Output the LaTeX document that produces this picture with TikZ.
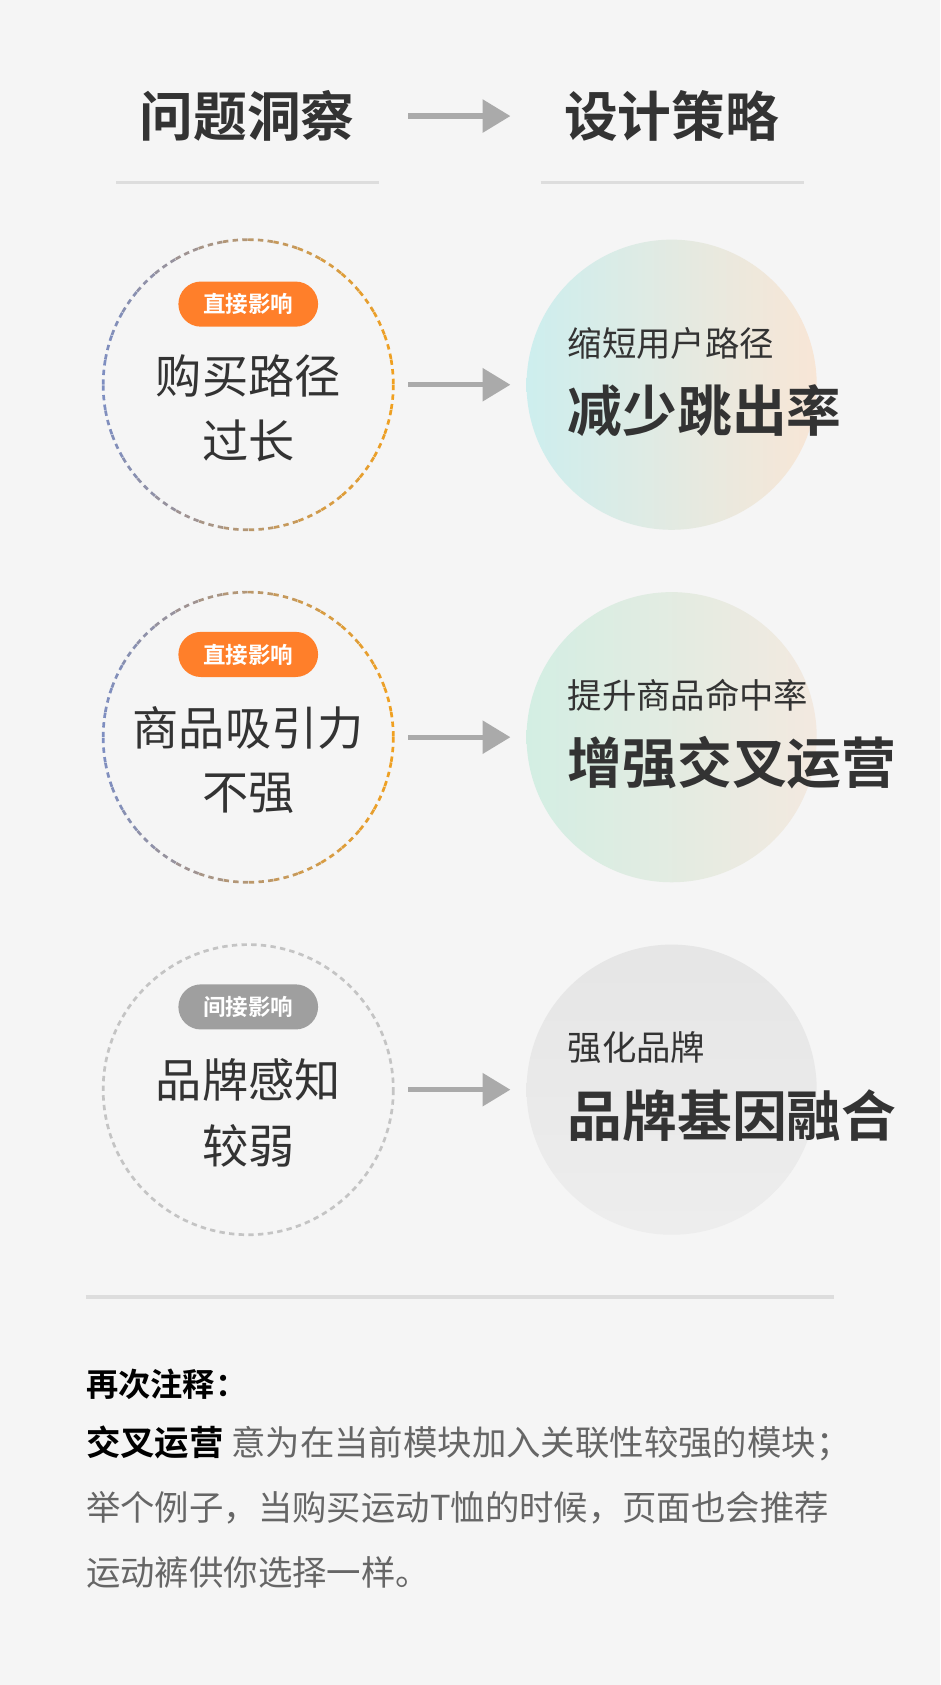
\documentclass[tikz,border=0pt]{standalone}
\usepackage{fontspec}
\setmainfont{Noto Sans CJK SC}[BoldFont={Noto Sans CJK SC Bold}]
\usetikzlibrary{arrows.meta}
\definecolor{bg}{HTML}{F5F5F5}
\definecolor{dk}{HTML}{333333}
\definecolor{ar}{HTML}{AAAAAA}
\definecolor{ln}{HTML}{DDDDDD}
\definecolor{og}{HTML}{FF7F2A}
\definecolor{bl}{HTML}{7E8EC0}
\definecolor{or}{HTML}{F0A020}
\definecolor{gy}{HTML}{C4C4C4}
\definecolor{tx}{HTML}{666666}
\definecolor{c1l}{HTML}{CDEEEE}
\definecolor{c1r}{HTML}{F8E6D6}
\definecolor{c2l}{HTML}{D3EEE3}
\definecolor{c2r}{HTML}{F3E9E0}
\newcommand{\fs}[1]{\fontsize{#1pt}{#1pt}\selectfont}
\tikzset{
 flowarrow/.style={draw=ar,line width=5pt,-{Triangle[length=26pt,width=30pt]}},
 badge/.style={rounded corners=21pt,minimum width=130pt,minimum height=42pt,text=white,font=\fs{21}\bfseries,inner sep=0},
 probtext/.style={text=dk,font=\fs{43},align=center,inner sep=0},
 small/.style={text=dk,font=\fs{32},anchor=west,inner sep=0},
 big/.style={text=dk,font=\fs{51}\bfseries,anchor=west,inner sep=0},
 title/.style={text=dk,font=\fs{50}\bfseries,inner sep=0},
 note/.style={text=tx,font=\fs{32},anchor=west,inner sep=0}
}
\begin{document}
\begin{tikzpicture}[x=1pt,y=-1pt]
\fill[bg] (0,0) rectangle (875,1568);
\useasboundingbox (0,0) rectangle (875,1568);
\node[title] (t1) at (230,108) {问题洞察};
\node[title] (t2) at (625,108) {设计策略};
\coordinate (ta) at (380,108); \coordinate (tb) at (475,108);
\draw[flowarrow] (ta) -- (tb);
\draw[ln,line width=3pt] (108,170) -- (353,170);
\draw[ln,line width=3pt] (503,170) -- (748,170);
% gradient dashed circles
\foreach \cy in {358,686}{
 \foreach \a in {0,10,...,350}{
  \pgfmathsetmacro{\p}{100*(1+cos(\a+5))/2}
  \draw[or!\p!bl,line width=2.5pt,dash pattern=on 5pt off 4pt] ([shift={(\a:135)}]231,\cy) arc[start angle=\a,delta angle=10,radius=135];
 }
}
\draw[gy,line width=2.5pt,dash pattern=on 5pt off 4pt] (231,1014) circle[radius=135];
% right circles
\shade[left color=c1l,right color=c1r] (625,358) circle[radius=135];
\shade[left color=c2l,right color=c2r] (625,686) circle[radius=135];
\shade[top color=gray!20!white,bottom color=gray!14!white] (625,1014) circle[radius=135];
% row 1
\node[badge,fill=og] (b1) at (231,283) {直接影响};
\node[probtext] (p1) at (231,350) {购买路径};
\node[probtext] (p1b) at (231,410) {过长};
\coordinate (a1) at (380,358); \coordinate (c1) at (475,358);
\draw[flowarrow] (a1) -- (c1);
\node[small] (s1) at (528,320) {缩短用户路径};
\node[big] (g1) at (528,382) {减少跳出率};
% row 2
\node[badge,fill=og] (b2) at (231,609) {直接影响};
\node[probtext] (p2) at (231,677) {商品吸引力};
\node[probtext] (p2b) at (231,738) {不强};
\coordinate (a2) at (380,686); \coordinate (c2) at (475,686);
\draw[flowarrow] (a2) -- (c2);
\node[small] (s2) at (528,647) {提升商品命中率};
\node[big] (g2) at (528,710) {增强交叉运营};
% row 3
\node[badge,fill=gray!75] (b3) at (231,937) {间接影响};
\node[probtext] (p3) at (231,1005) {品牌感知};
\node[probtext] (p3b) at (231,1066) {较弱};
\coordinate (a3) at (380,1014); \coordinate (c3) at (475,1014);
\draw[flowarrow] (a3) -- (c3);
\node[small] (s3) at (528,975) {强化品牌};
\node[big] (g3) at (528,1038) {品牌基因融合};
% notes
\draw[ln,line width=3pt] (80,1207) -- (776,1207);
\node[note,text=black,font=\fs{30}\bfseries] (n0) at (80,1288) {再次注释：};
\node[note] (n1) at (80,1343) {\textcolor{black}{\bfseries 交叉运营}\ 意为在当前模块加入关联性较强的模块；};
\node[note] (n2) at (80,1403) {举个例子，当购买运动T恤的时候，页面也会推荐};
\node[note] (n3) at (80,1463) {运动裤供你选择一样。};
\end{tikzpicture}
\end{document}
